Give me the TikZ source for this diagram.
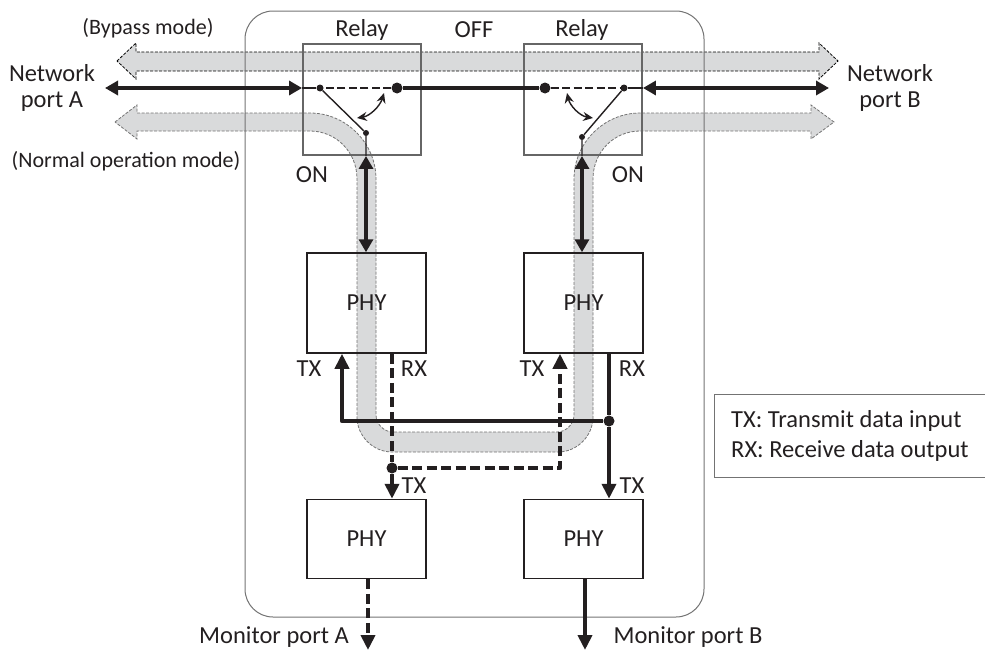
\documentclass[tikz,border=0pt]{standalone}
\usepackage{fontspec}
\setmainfont{Carlito}
\usetikzlibrary{arrows.meta}
\definecolor{bandgray}{HTML}{D9DADB}
\definecolor{inkblack}{HTML}{231F20}
\begin{document}
\begin{tikzpicture}[x=1pt, y=-1pt,
            caption/.style={inner sep=0pt, text=inkblack, font=\fontsize{24.5}{26}\selectfont, align=center},
            minor/.style={caption, font=\fontsize{22}{25}\selectfont},
            relaybox/.style={draw=black!60, line width=1.9pt, minimum width=118pt, minimum height=111pt, inner sep=0pt},
            phybox/.style={draw=inkblack, line width=1.5pt, minimum width=119pt, inner sep=0pt, caption},
            dot/.style={circle, fill=inkblack, inner sep=0pt, minimum size=#1},
            wire/.style={draw=inkblack, line width=1.4pt},
            opendash/.style={wire, dash pattern=on 8pt off 3.5pt},
            bus/.style={draw=inkblack, line width=4.4pt, line join=round},
            busdash/.style={bus, dash pattern=on 10pt off 4.5pt},
            tip/.style={-{Triangle[length=15pt, width=14pt]}},
            twotip/.style={{Triangle[length=13pt, width=14pt]}-{Triangle[length=13pt, width=14pt]}},
            swing/.style={{Stealth[length=10pt, width=9pt]}-{Stealth[length=10pt, width=9pt]}},
            band/.style={fill=bandgray, line width=0.8pt, dash pattern=on 3pt off 1.5pt}
        ]
        \useasboundingbox (0,0) rectangle (985,653);

        % Bypass mode band
        \draw[band, draw=black]
            (117,61) -- (136,43) -- (136,52) -- (819,52) -- (819,43) -- (838,61)
            -- (819,79) -- (819,71) -- (136,71) -- (136,79) -- cycle;

        % Normal operation mode band
        \draw[band, draw=black!55]
            (115,122) -- (137,105) -- (137,113) -- (310,113)
            .. controls (346,113) and (376,143) .. (376,179) -- (376,415)
            .. controls (376,424) and (384,432) .. (393,432) -- (557,432)
            .. controls (566,432) and (574,424) .. (574,415) -- (574,179)
            .. controls (574,143) and (604,113) .. (640,113) -- (811,113)
            -- (811,105) -- (834,122) -- (811,139) -- (811,131) -- (640,131)
            .. controls (614,131) and (593,152) .. (593,179) -- (593,417)
            .. controls (593,436) and (577,452) .. (558,452) -- (392,452)
            .. controls (373,452) and (357,436) .. (357,417) -- (357,179)
            .. controls (357,152) and (336,131) .. (310,131) -- (137,131)
            -- (137,139) -- cycle;

        % Enclosure
        \draw[black!55, line width=1pt, rounded corners=28pt] (245,11) rectangle (704,617);

        % Legend, open on the right
        \draw[black!55, line width=1pt] (985,394) -- (714,394) -- (714,477) -- (985,477);

        % Relays and PHY blocks
        \node[relaybox] (relayA) at (362,99.5) {};
        \node[relaybox] (relayB) at (583,99.5) {};
        \node[phybox, minimum height=100pt] (phyA) at (366.5,303) {PHY};
        \node[phybox, minimum height=100pt] (phyB) at (583.5,303) {PHY};
        \node[phybox, minimum height=79pt] (monA) at (366.5,539) {PHY};
        \node[phybox, minimum height=79pt] (monB) at (583.5,539) {PHY};

        % Contacts of both relays
        \foreach \name/\x/\y/\size in {pivA/320/88/7, offA/397/88/11, onA/366/133/6,
                pivB/624/88/7, offB/545/88/11, onB/582/137/6} {
                \node[dot=\size pt] (\name) at (\x,\y) {};
            }

        % Free ends and corners
        \coordinate (portA) at (105,88);
        \coordinate (portB) at (829,88);
        \coordinate (outA) at (368,650);
        \coordinate (outB) at (585,650);
        \coordinate (busL) at (342,421);
        \coordinate (turnA) at (560,468);
        \node[dot=11pt] (joinB) at (609,421) {};
        \node[dot=11pt] (joinA) at (392,468) {};

        % Relay wiring
        \foreach \off/\piv/\on/\rel/\side in {offA/pivA/onA/relayA/west, offB/pivB/onB/relayB/east} {
                \draw[opendash] (\off) -- (\piv);
                \draw[wire] (\piv) -- (\rel.\side |- \piv);
                \draw[wire] (\piv) -- (\on) -- (\on |- \rel.south);
            }
        \draw[bus] (offA) -- (offB);

        % Moving contact arrows
        \draw[wire, swing] (357,118) .. controls (370,116) and (380,106) .. (384,93);
        \draw[wire, swing] (593,118) .. controls (580,116) and (570,106) .. (567,93);

        % Ports
        \draw[bus, twotip] (portA) -- (portA -| relayA.west);
        \draw[bus, twotip] (portB) -- (portB -| relayB.east);
        \draw[bus, twotip] (onA |- relayA.south) -- (onA |- phyA.north);
        \draw[bus, twotip] (onB |- relayB.south) -- (onB |- phyB.north);

        % Solid data path
        \draw[bus, tip] (joinB) -- (busL) -- (busL |- phyA.south);
        \draw[bus] (joinB |- phyB.south) -- (joinB);
        \draw[bus, tip] (joinB) -- (joinB |- monB.north);
        \draw[bus, tip] (outB |- monB.south) -- (outB);

        % Dashed data path
        \draw[busdash] (joinA |- phyA.south) -- (joinA);
        \draw[busdash, tip] (joinA) -- (joinA |- monA.north);
        \draw[busdash, tip] (joinA) -- (turnA) -- (turnA |- phyB.south);
        \draw[busdash, tip] (outA |- monA.south) -- (outA);

        % Labels
        \foreach \x/\y/\txt [count=\n from 1] in {362/30/Relay, 582/30/Relay, 474/30/OFF,
                52/88/Network\\port A, 890/88/Network\\port B, 312/175/ON, 628/175/ON,
                309/369/TX, 414/369/RX, 532/369/TX, 632/369/RX,
                414/486/TX, 632/486/TX, 274/637/Monitor port A, 688/637/Monitor port B} {
                \node[caption] (lbl\n) at (\x,\y) {\txt};
            }
        \foreach \x/\y/\txt [count=\n from 1] in {148/28/(Bypass mode), 126/161/(Normal operation mode)} {
                \node[minor] (note\n) at (\x,\y) {\txt};
            }
        \node[caption, anchor=west, align=left] (legend) at (731,436) {TX: Transmit data input\\[4pt]RX: Receive data output};
    \end{tikzpicture}
\end{document}
